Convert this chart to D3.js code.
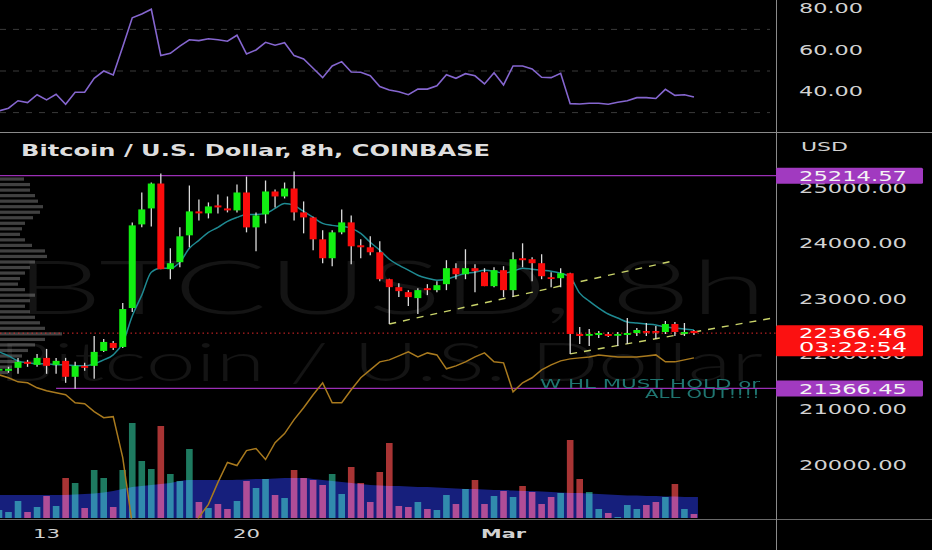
<!DOCTYPE html>
<html><head><meta charset="utf-8">
<script src="https://cdn.jsdelivr.net/npm/d3@7"></script>
<style>html,body{margin:0;padding:0;background:#000;}svg{display:block}</style>
</head><body><svg id="c" width="932" height="550"></svg>
<script>
// ---- data (index -1 .. 72, 8h candles) ----
const opens  = [21690,21685,21739,21847,21793,21919,21793,21865,21577,21775,21775,22045,22189,22117,22820,24333,24622,25072,23523,23649,24135,24568,24532,24676,24622,24586,24910,24279,24514,24928,24838,24982,24550,24459,24063,23721,24189,24369,23955,23919,23829,23342,23198,23108,23000,23180,23144,23252,23541,23432,23541,23468,23216,23505,23144,23721,23703,23631,23378,23360,23450,22351,22333,22333,22351,22333,22333,22369,22405,22405,22387,22532,22369,22405];
const highs  = [21750,21757,21919,21883,21991,22081,21919,21919,21847,21829,22315,22261,22225,22910,24369,24910,25090,25252,23901,24279,25036,24784,24730,24874,24838,25054,25198,24550,25126,24964,25090,25288,24748,24470,24225,24225,24604,24495,24063,24117,24027,23350,23270,23144,23180,23252,23306,23685,23631,23883,23613,23541,23559,23577,23829,23991,23739,23793,23468,23541,23460,22477,22441,22405,22387,22387,22640,22459,22550,22496,22586,22568,22550,22423];
const lows   = [21660,21649,21631,21757,21757,21631,21631,21468,21360,21685,21541,22027,22063,22099,22748,24279,24297,23523,23342,23559,23919,24405,24441,24532,24550,24550,24189,23847,24351,24640,24802,24405,24171,23865,23631,23577,24153,23613,23721,23775,23306,22532,23018,22856,22712,23054,23108,23144,23342,23342,23108,23216,23198,23018,23018,23559,23306,23342,23198,23198,21991,22171,22135,22279,22297,22135,22171,22315,22315,22261,22351,22315,22315,22333];
const closes = [21720,21721,21847,21811,21919,21775,21865,21577,21775,21739,22027,22207,22099,22802,24315,24604,25072,23523,23631,24117,24568,24532,24658,24640,24586,24910,24279,24495,24928,24838,24982,24550,24459,24063,23721,24189,24369,23937,23919,23829,23342,23198,23126,23018,23144,23144,23234,23541,23432,23541,23487,23216,23505,23144,23703,23685,23631,23396,23360,23450,22351,22315,22351,22369,22315,22351,22369,22423,22387,22387,22532,22387,22387,22366.46];
const volumes = [160,120,340,120,220,440,240,800,700,200,960,800,220,960,1900,1140,980,1840,880,740,1380,320,200,280,180,340,740,600,780,460,400,960,800,760,660,880,480,1020,700,320,920,1500,240,220,320,180,160,460,280,580,760,280,440,540,420,640,520,280,420,500,1560,780,520,180,100,20,260,180,260,320,420,680,180,80];
const volumeMA = [460,460,460,460,460,460,460,460,470,480,490,510,540,580,620,640,660,680,700,740,760,760,760,760,760,765,770,780,780,790,800,800,800,780,760,740,720,700,680,660,650,640,640,630,620,620,610,600,590,580,580,570,560,560,550,540,540,530,520,510,500,500,490,480,470,460,450,450,440,440,430,430,420,420];
const ema = [22027,21955,21865,21829,21811,21811,21793,21793,21775,21775,21811,21883,21973,22189,22676,23054,23468,23541,23541,23649,23901,24045,24189,24279,24387,24459,24514,24514,24532,24622,24712,24676,24568,24459,24351,24315,24297,24261,24171,24009,23865,23703,23595,23505,23414,23360,23324,23342,23396,23450,23468,23505,23487,23450,23487,23541,23523,23505,23487,23450,23378,23090,22946,22820,22712,22640,22568,22550,22532,22514,22477,22459,22441,22423];
const oscLine = [21613,21559,21486,21468,21378,21324,21288,21252,21108,21090,20946,20838,20856,20117,18910,18640,18640,18640,18820,18640,18640,19036,19270,19667,20027,19973,20243,20279,20081,20387,20550,20802,21018,21252,21468,21108,21108,21342,21559,21703,21847,21883,21955,22027,21937,22009,21973,21721,21775,21847,21937,22009,21847,21829,21306,21468,21559,21703,21793,21865,21901,21919,21937,21973,21955,21937,21937,21937,21955,21973,21847,21847,21883,21919];
const rsi = [30.8,32.1,35.7,34.8,38.6,36.1,38.8,34.0,39.8,39.8,46.5,50.0,48.1,61.7,75.6,77.4,79.7,57.4,58.5,62.0,65.0,64.6,65.5,65.0,64.3,67.2,58.2,60.1,63.8,62.4,63.6,57.4,55.8,51.3,46.8,52.4,54.5,49.5,49.4,47.7,42.5,40.9,40.0,38.6,41.3,41.3,42.9,48.2,46.5,48.7,47.7,43.8,49.2,43.3,52.4,52.4,51.0,47.0,46.8,48.9,34.3,34.1,34.5,34.5,34.0,35.0,35.7,37.2,37.2,36.8,41.2,38.3,38.6,37.5];
const profilePrices = [25150,25050,24950,24850,24750,24650,24550,24450,24350,24250,24150,24050,23950,23850,23750,23650,23550,23450,23350,23250,23150,23050,22950,22850,22750,22650,22550,22450,22350,22250,22150,22050,21950,21850,21750,21650];
const profileVol = [2.4,3.0,3.0,3.5,3.8,4.3,4.0,3.3,2.5,2.2,2.0,2.5,3.2,4.5,4.7,3.5,3.0,2.5,2.0,1.8,2.5,3.5,3.0,2.5,3.0,3.5,4.0,4.5,6.2,4.5,3.5,2.8,2.2,1.8,1.2,0.8];
const priceTicks = [25000,24000,23000,22000,21000,20000];
const rsiTicks = [80,60,40];
const rsiLevels = [70,50,30];
const xTicks = [4,25,52];
const xTickLabels = ["13","20","Mar"];
const levelValues = [25214.57, 21366.45];
const levelStart = [-1.6, 5];
const lastPrice = 22366.46;
const countdown = "03:22:54";
const trendLines = [[[40,22532],[69.7,23667]],[[59,21991],[80.3,22640]]];
const title = "Bitcoin / U.S. Dollar, 8h, COINBASE";
const note = ["W HL MUST HOLD or","ALL OUT!!!!"];

// ---- layout ----
const svg = d3.select("#c");
const AX = 776;
const x = d3.scaleLinear().domain([0,72]).range([8.5, 8.5+9.52*72]);
const yP = d3.scaleLinear().domain([20000,25000]).range([464,187.5]);
const yR = d3.scaleLinear().domain([30,70]).range([112.6,29.4]);
const yV = d3.scaleLinear().domain([0,2000]).range([518,418]);
const xProf = d3.scaleLinear().domain([0,6.2]).range([0,62]);
const idx = d3.range(opens.length).map(k=>k-1);

svg.append("rect").attr("width",932).attr("height",550).attr("fill","#000");
const defs = svg.append("defs");
defs.append("clipPath").attr("id","mainclip").append("rect").attr("x",0).attr("y",133).attr("width",AX).attr("height",385.5);
defs.append("clipPath").attr("id","topclip").append("rect").attr("x",0).attr("y",0).attr("width",AX).attr("height",132);

// RSI pane
const topG = svg.append("g").attr("clip-path","url(#topclip)");
topG.selectAll("line.lvl").data(rsiLevels).join("line")
  .attr("x1",0).attr("x2",770).attr("y1",d=>yR(d)).attr("y2",d=>yR(d))
  .attr("stroke","#3a3a3a").attr("stroke-width",1).attr("stroke-dasharray","6,7");
topG.append("path").datum(rsi).attr("fill","none").attr("stroke","#8566cf").attr("stroke-width",1.6)
  .attr("d", d3.line().x((d,k)=>x(k-1)).y(d=>yR(d)));

// main pane
const g = svg.append("g").attr("clip-path","url(#mainclip)");
// watermark
g.append("text").text("BTCUSD, 8h").attr("x",15).attr("y",314)
  .attr("font-family","Lato, 'Open Sans', sans-serif").attr("font-weight",300).attr("font-size",74)
  .attr("fill","#141414").attr("textLength",752).attr("lengthAdjust","spacingAndGlyphs");
g.append("text").text("Bitcoin / U.S. Dollar").attr("x",-2).attr("y",381)
  .attr("font-family","Lato, 'Open Sans', sans-serif").attr("font-weight",300).attr("font-size",54)
  .attr("fill","#141414").attr("textLength",765).attr("lengthAdjust","spacingAndGlyphs");

// volume profile
g.selectAll("rect.prof").data(profilePrices).join("rect")
  .attr("x",0).attr("y",p=>yP(p+50)+1).attr("height",3.2)
  .attr("width",(p,k)=>xProf(profileVol[k])).attr("fill","rgba(130,130,130,0.5)");

// volume MA area
g.append("path").datum(volumeMA).attr("fill","#161f7c")
  .attr("d", d3.area().curve(d3.curveMonotoneX).x((d,k)=>x(k-1)+ (k===volumeMA.length-1?4:0)).y0(yV(0)).y1(d=>yV(d)));
// volume bars
g.append("g").style("mix-blend-mode","screen").selectAll("rect").data(volumes).join("rect")
  .attr("x",(d,k)=>x(k-1)-3.3).attr("width",6.6)
  .attr("y",d=>yV(d)).attr("height",d=>yV(0)-yV(d))
  .attr("fill",(d,k)=>closes[k]>=opens[k]?"#1e7a60":"#a83434");

// levels
g.selectAll("line.lev").data(levelValues).join("line")
  .attr("x1",(d,k)=>x(levelStart[k])).attr("x2",AX).attr("y1",d=>yP(d)).attr("y2",d=>yP(d))
  .attr("stroke","#9a2fb5").attr("stroke-width",1.2);
g.append("line").attr("x1",0).attr("x2",AX).attr("y1",yP(lastPrice)).attr("y2",yP(lastPrice))
  .attr("stroke","#e0282a").attr("stroke-width",1).attr("stroke-dasharray","1.5,3");

// oscillator line
g.append("path").datum(oscLine).attr("fill","none").attr("stroke","#a97a1e").attr("stroke-width",1.5)
  .attr("d", d3.line().x((d,k)=>x(k-1)).y(d=>yP(d)));
// ema
g.append("path").datum(ema).attr("fill","none").attr("stroke","#1f8a92").attr("stroke-width",1.5)
  .attr("d", d3.line().curve(d3.curveMonotoneX).x((d,k)=>x(k-1)).y(d=>yP(d)));
// trend lines
g.selectAll("line.tr").data(trendLines).join("line")
  .attr("x1",d=>x(d[0][0])).attr("y1",d=>yP(d[0][1])).attr("x2",d=>x(d[1][0])).attr("y2",d=>yP(d[1][1]))
  .attr("stroke","#c9d36a").attr("stroke-width",1.4).attr("stroke-dasharray","7,7");

// candles
const cg = g.append("g");
cg.selectAll("line.w").data(idx).join("line")
  .attr("x1",i=>x(i)).attr("x2",i=>x(i)).attr("y1",(i,k)=>yP(highs[k])).attr("y2",(i,k)=>yP(lows[k]))
  .attr("stroke","#dcdcdc").attr("stroke-width",1.3);
cg.selectAll("rect.b").data(idx).join("rect")
  .attr("x",i=>x(i)-3.5).attr("width",7)
  .attr("y",(i,k)=>Math.min(yP(opens[k]),yP(closes[k])))
  .attr("height",(i,k)=>Math.max(1.8,Math.abs(yP(opens[k])-yP(closes[k]))))
  .attr("fill",(i,k)=>closes[k]>=opens[k]?"#12ee12":"#fb0c0c");

// note text
g.append("text").text(note[0]).attr("x",540).attr("y",388).attr("font-family","DejaVu Sans").attr("font-size",12.5)
  .attr("fill","#1f7570").attr("textLength",220).attr("lengthAdjust","spacingAndGlyphs");
g.append("text").text(note[1]).attr("x",645).attr("y",398).attr("font-family","DejaVu Sans").attr("font-size",12.5)
  .attr("fill","#1f7570").attr("textLength",115).attr("lengthAdjust","spacingAndGlyphs");

// title
svg.append("text").text(title).attr("x",21).attr("y",156).attr("font-family","DejaVu Sans").attr("font-weight","bold")
  .attr("font-size",15).attr("fill","#dedede").attr("textLength",469).attr("lengthAdjust","spacingAndGlyphs");

// separators
svg.append("line").attr("x1",0).attr("x2",932).attr("y1",132.5).attr("y2",132.5).attr("stroke","#8a8a8a");
svg.append("line").attr("x1",0).attr("x2",932).attr("y1",519.5).attr("y2",519.5).attr("stroke","#6a6a6a");
svg.append("line").attr("x1",AX+0.5).attr("x2",AX+0.5).attr("y1",0).attr("y2",550).attr("stroke","#8a8a8a");

// axes labels
svg.selectAll("text.rt").data(rsiTicks).join("text").text(d=>d3.format(".2f")(d))
  .attr("x",799).attr("y",d=>yR(d)+4.6).attr("font-family","DejaVu Sans").attr("font-size",13.5).attr("fill","#d2d2d2")
  .attr("textLength",64).attr("lengthAdjust","spacingAndGlyphs");
svg.selectAll("text.pt").data(priceTicks).join("text").text(d=>d3.format(".2f")(d))
  .attr("x",799).attr("y",d=>yP(d)+5.5).attr("font-family","DejaVu Sans").attr("font-size",14.5).attr("fill","#d2d2d2")
  .attr("textLength",108).attr("lengthAdjust","spacingAndGlyphs");
svg.append("text").text("USD").attr("x",801).attr("y",151).attr("font-family","DejaVu Sans").attr("font-size",13)
  .attr("fill","#d2d2d2").attr("textLength",47).attr("lengthAdjust","spacingAndGlyphs");
svg.selectAll("text.xt").data(xTicks).join("text").text((d,k)=>xTickLabels[k])
  .attr("x",d=>x(d)).attr("y",538).attr("text-anchor","middle").attr("font-family","DejaVu Sans")
  .attr("font-size",12.5).attr("font-weight",(d,k)=>xTickLabels[k]==="Mar"?"bold":"normal").attr("fill","#d2d2d2")
  .attr("textLength",(d,k)=>xTickLabels[k].length===3?45:27).attr("lengthAdjust","spacingAndGlyphs");

// level boxes
levelValues.forEach(v=>{
  svg.append("rect").attr("x",AX).attr("y",yP(v)-8).attr("width",147).attr("height",16).attr("rx",1.5).attr("fill","#a13ac0");
  svg.append("text").text(d3.format(".2f")(v)).attr("x",799).attr("y",yP(v)+5.5).attr("font-family","DejaVu Sans")
    .attr("font-size",14.5).attr("fill","#f4f4f4").attr("textLength",108).attr("lengthAdjust","spacingAndGlyphs");
});
svg.append("rect").attr("x",AX).attr("y",yP(lastPrice)-8).attr("width",147).attr("height",31).attr("rx",1.5).attr("fill","#fb1111");
svg.append("text").text(d3.format(".2f")(lastPrice)).attr("x",799).attr("y",yP(lastPrice)+5).attr("font-family","DejaVu Sans")
  .attr("font-size",14.5).attr("fill","#ffffff").attr("textLength",108).attr("lengthAdjust","spacingAndGlyphs");
svg.append("text").text(countdown).attr("x",799).attr("y",yP(lastPrice)+19).attr("font-family","DejaVu Sans")
  .attr("font-size",14.5).attr("fill","#ffffff").attr("textLength",108).attr("lengthAdjust","spacingAndGlyphs");
</script></body></html>
